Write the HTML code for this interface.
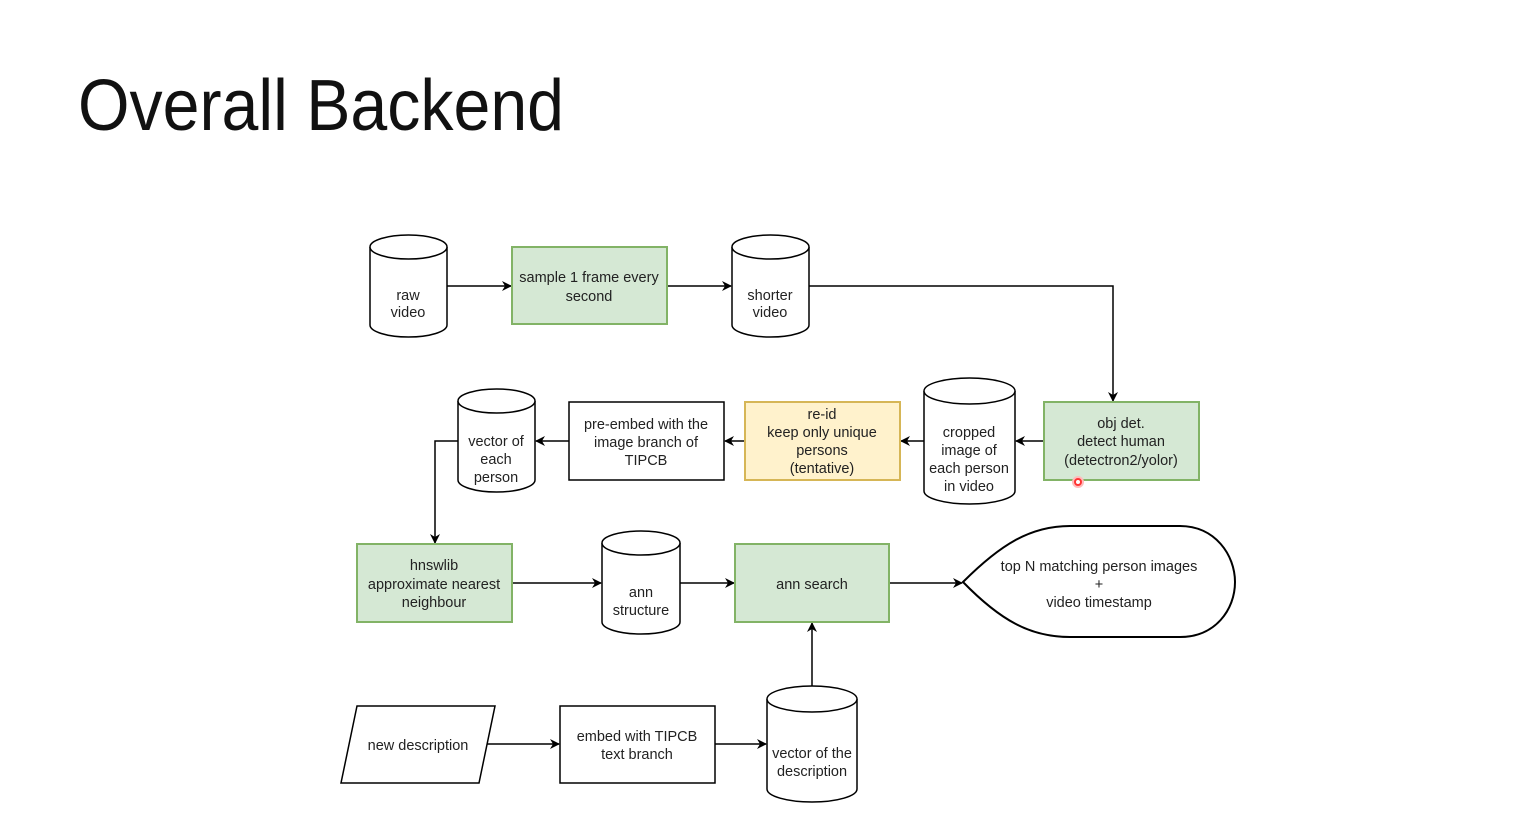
<!DOCTYPE html>
<html><head><meta charset="utf-8"><style>
html,body{margin:0;padding:0;background:#fff;}
svg text{font-family:"Liberation Sans",Arial,sans-serif;fill:#222;}
</style></head><body>
<svg width="1537" height="833" viewBox="0 0 1537 833" xmlns="http://www.w3.org/2000/svg">
<defs>
<marker id="a" markerWidth="10" markerHeight="10" refX="9" refY="5" orient="auto" markerUnits="userSpaceOnUse">
<path d="M0,0 L10,5 L0,10 L3,5 Z" fill="#000"/>
</marker>
</defs>
<text x="78" y="130" font-size="72" textLength="486" lengthAdjust="spacingAndGlyphs" style="fill:#111">Overall Backend</text>

<g fill="none" stroke="#000" stroke-width="1.5" marker-end="url(#a)">
<path d="M447,286 H511"/>
<path d="M667,286 H731"/>
<path d="M809,286 H1113 V401"/>
<path d="M1044,441 H1016"/>
<path d="M924,441 H901"/>
<path d="M745,441 H725"/>
<path d="M569,441 H536"/>
<path d="M458,441 H435 V543"/>
<path d="M512,583 H601"/>
<path d="M680,583 H734"/>
<path d="M889,583 H962"/>
<path d="M812,686 V623"/>
<path d="M479,744 H559"/>
<path d="M715,744 H766"/>
</g>

<g stroke-width="2">
<rect x="512" y="247" width="155" height="77" fill="#d5e8d4" stroke="#82b366"/>
<rect x="1044" y="402" width="155" height="78" fill="#d5e8d4" stroke="#82b366"/>
<rect x="745" y="402" width="155" height="78" fill="#fff2cc" stroke="#d6b656"/>
<rect x="357" y="544" width="155" height="78" fill="#d5e8d4" stroke="#82b366"/>
<rect x="735" y="544" width="154" height="78" fill="#d5e8d4" stroke="#82b366"/>
</g>
<g fill="#fff" stroke="#000" stroke-width="1.5">
<rect x="569" y="402" width="155" height="78"/>
<rect x="560" y="706" width="155" height="77"/>
<path d="M357,706 L495,706 L479,783 L341,783 Z"/>
<path d="M963,582 C1000,545 1030,526 1070,526 L1180,526 C1215,526 1235,555 1235,582 C1235,610 1215,637 1180,637 L1070,637 C1030,637 1000,620 963,582 Z" stroke-width="2"/>
</g>

<g fill="#fff" stroke="#000" stroke-width="1.5">
<!-- cylinders -->
<path d="M370,247 V325 A38.5,12 0 0 0 447,325 V247"/><ellipse cx="408.5" cy="247" rx="38.5" ry="12"/>
<path d="M732,247 V325 A38.5,12 0 0 0 809,325 V247"/><ellipse cx="770.5" cy="247" rx="38.5" ry="12"/>
<path d="M924,391 V491 A45.5,13 0 0 0 1015,491 V391"/><ellipse cx="969.5" cy="391" rx="45.5" ry="13"/>
<path d="M458,401 V480 A38.5,12 0 0 0 535,480 V401"/><ellipse cx="496.5" cy="401" rx="38.5" ry="12"/>
<path d="M602,543 V622 A39,12 0 0 0 680,622 V543"/><ellipse cx="641" cy="543" rx="39" ry="12"/>
<path d="M767,699 V789 A45,13 0 0 0 857,789 V699"/><ellipse cx="812" cy="699" rx="45" ry="13"/>
</g>

<circle cx="1078" cy="482" r="5" fill="#f33" stroke="#fbb" stroke-width="2"/>
<circle cx="1078" cy="482" r="2" fill="#fff"/>

<g font-size="14.5" text-anchor="middle">
<text x="408" y="300">raw</text><text x="408" y="317">video</text>
<text x="589" y="282">sample 1 frame every</text><text x="589" y="301">second</text>
<text x="770" y="300">shorter</text><text x="770" y="317">video</text>
<text x="1121" y="428">obj det.</text><text x="1121" y="446">detect human</text><text x="1121" y="465">(detectron2/yolor)</text>
<text x="969" y="437">cropped</text><text x="969" y="455">image of</text><text x="969" y="473">each person</text><text x="969" y="491">in video</text>
<text x="822" y="419">re-id</text><text x="822" y="437">keep only unique</text><text x="822" y="455">persons</text><text x="822" y="473">(tentative)</text>
<text x="646" y="429">pre-embed with the</text><text x="646" y="447">image branch of</text><text x="646" y="465">TIPCB</text>
<text x="496" y="446">vector of</text><text x="496" y="464">each</text><text x="496" y="482">person</text>
<text x="434" y="570">hnswlib</text><text x="434" y="589">approximate nearest</text><text x="434" y="607">neighbour</text>
<text x="641" y="597">ann</text><text x="641" y="615">structure</text>
<text x="812" y="589">ann search</text>
<text x="1099" y="571">top N matching person images</text><text x="1099" y="589">+</text><text x="1099" y="607">video timestamp</text>
<text x="418" y="750">new description</text>
<text x="637" y="741">embed with TIPCB</text><text x="637" y="759">text branch</text>
<text x="812" y="758">vector of the</text><text x="812" y="776">description</text>
</g>
</svg>
</body></html>
